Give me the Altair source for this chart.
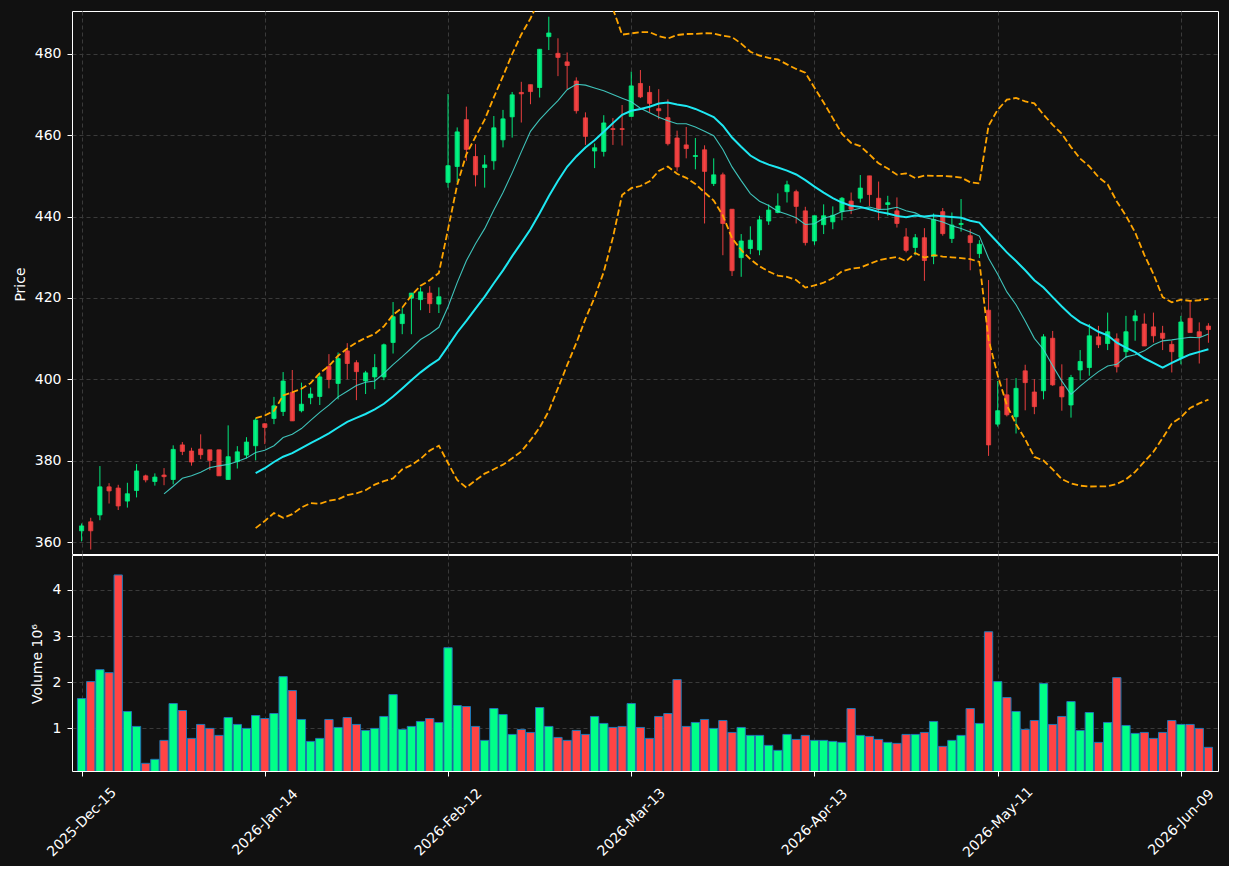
import json
import altair as alt
import pandas as pd

open_ = [362.8, 365.0, 366.7, 373.6, 373.3, 370.1, 372.7, 376.3, 374.9, 376.5,
         375.4, 383.9, 382.4, 382.9, 382.7, 382.7, 375.4, 379.8, 381.4, 383.7,
         389.1, 390.4, 392.1, 396.8, 392.3, 395.5, 395.8, 403.2, 399.0, 407.0,
         404.1, 399.6, 400.6, 400.6, 409.05, 413.7, 419.95, 419.6, 421.2, 418.5,
         448.4, 452.3, 463.8, 454.75, 452.05, 453.7, 458.85, 464.5, 470.5, 472.4,
         471.7, 484.2, 480.1, 478.0, 473.3, 464.25, 456.1, 456.0, 461.6, 461.6,
         464.6, 472.7, 470.5, 466.5, 464.3, 459.3, 457.6, 454.75, 456.4, 448.1,
         450.25, 441.8, 429.9, 432.15, 431.8, 438.9, 441.0, 446.1, 446.1, 441.4,
         434.0, 438.0, 438.7, 441.2, 443.8, 444.5, 450.0, 444.5, 442.96, 441.4,
         435.0, 432.4, 434.8, 430.2, 441.2, 434.6, 438.05, 435.3, 430.9, 417.0,
         389.0, 396.2, 390.8, 402.1, 396.9, 397.2, 410.1, 398.2, 393.7, 402.3,
         402.9, 410.45, 408.8, 409.96, 406.8, 414.4, 413.6, 412.9, 411.35, 408.6,
         405.4, 415.0, 411.7, 413.1]
high = [364.6, 366.0, 378.7, 374.5, 374.1, 374.6, 379.2, 376.6, 376.9, 378.2,
        383.8, 384.6, 383.2, 386.5, 382.7, 382.7, 388.7, 383.6, 385.8, 390.5,
        389.2, 395.7, 401.8, 402.3, 399.2, 398.0, 401.3, 406.2, 406.6, 408.9,
        404.7, 402.1, 406.2, 408.8, 419.0, 417.5, 421.2, 422.6, 422.9, 422.6,
        470.1, 461.9, 467.0, 457.8, 455.1, 464.7, 466.2, 470.6, 473.1, 472.4,
        481.1, 489.1, 483.8, 480.3, 474.2, 465.6, 457.95, 464.9, 464.2, 467.4,
        475.6, 476.0, 472.1, 471.3, 468.8, 461.1, 462.0, 459.3, 457.5, 454.3,
        450.8, 441.8, 435.7, 437.6, 440.2, 443.0, 445.7, 448.8, 446.6, 442.4,
        440.2, 443.0, 442.5, 444.8, 445.9, 450.2, 450.0, 448.6, 445.1, 444.7,
        437.15, 435.7, 437.15, 440.75, 442.1, 441.0, 444.3, 436.9, 434.2, 424.4,
        399.6, 400.3, 400.3, 403.6, 400.05, 411.1, 411.9, 403.7, 401.1, 407.2,
        413.6, 413.15, 416.4, 411.3, 415.6, 417.0, 416.2, 416.4, 413.15, 409.5,
        415.6, 419.3, 414.0, 413.8]
low = [360.2, 358.2, 365.4, 369.5, 367.9, 368.5, 371.0, 374.7, 373.9, 374.0,
       374.2, 381.4, 378.8, 380.4, 377.7, 376.3, 375.4, 378.1, 380.6, 380.1,
       384.1, 389.0, 391.0, 389.8, 391.9, 393.9, 393.7, 397.8, 395.1, 400.0,
       394.9, 396.4, 397.6, 399.8, 406.35, 411.1, 411.1, 417.0, 416.3, 416.3,
       447.1, 448.4, 453.7, 447.4, 447.1, 451.5, 457.0, 459.4, 463.1, 467.6,
       469.25, 480.9, 474.5, 471.3, 465.3, 457.6, 451.9, 454.75, 457.6, 457.45,
       464.6, 469.1, 465.6, 463.9, 457.45, 451.1, 454.3, 451.6, 438.3, 447.5,
       430.5, 425.4, 425.2, 430.75, 430.5, 437.96, 440.8, 443.45, 438.3, 432.9,
       433.05, 435.7, 436.9, 439.1, 440.6, 443.45, 442.6, 439.1, 440.2, 437.3,
       431.2, 430.5, 424.2, 428.3, 435.3, 433.5, 436.3, 426.8, 429.8, 381.2,
       388.4, 390.9, 386.7, 392.4, 391.45, 395.1, 398.4, 392.3, 390.6, 399.8,
       400.9, 407.7, 407.2, 401.7, 405.2, 409.5, 408.2, 409.05, 407.2, 401.7,
       403.7, 411.5, 403.9, 409.0]
close = [364.0, 362.8, 373.6, 372.6, 368.9, 371.9, 377.5, 375.3, 376.0, 376.1,
         382.8, 382.3, 379.7, 381.5, 380.1, 376.3, 381.0, 382.2, 384.6, 390.0,
         388.2, 393.5, 399.6, 389.8, 393.9, 396.4, 400.6, 400.0, 405.1, 403.9,
         401.9, 401.6, 402.9, 408.5, 415.4, 416.0, 421.2, 421.5, 418.6, 420.3,
         452.5, 460.8, 456.5, 450.25, 452.7, 461.8, 464.0, 469.9, 470.15, 470.7,
         481.1, 485.1, 479.1, 477.1, 466.0, 459.7, 456.9, 463.0, 461.4, 461.4,
         472.1, 469.4, 467.8, 466.0, 457.9, 452.2, 456.7, 455.0, 451.1, 450.25,
         438.3, 426.7, 434.0, 434.2, 439.2, 441.6, 442.6, 447.8, 442.5, 433.6,
         440.2, 440.2, 440.3, 444.5, 441.8, 447.0, 445.4, 441.8, 443.4, 438.3,
         431.7, 434.8, 429.2, 439.3, 435.8, 437.9, 438.3, 433.6, 433.2, 383.9,
         392.3, 391.3, 397.8, 399.2, 393.3, 410.45, 398.65, 395.7, 400.45, 404.4,
         410.7, 408.5, 411.7, 403.1, 411.7, 415.6, 408.2, 410.7, 410.1, 406.8,
         414.1, 411.5, 410.45, 412.25]
volume = [1.647, 2.014, 2.273, 2.208, 4.323, 1.367, 1.043, 0.244, 0.331, 0.741,
          1.539, 1.388, 0.784, 1.086, 1.0, 0.849, 1.237, 1.086, 1.0, 1.28,
          1.215, 1.323, 2.122, 1.82, 1.194, 0.719, 0.784, 1.194, 1.021, 1.237,
          1.086, 0.956, 1.0, 1.259, 1.733, 0.978, 1.043, 1.151, 1.215, 1.129,
          2.748, 1.496, 1.474, 1.043, 0.741, 1.431, 1.302, 0.87, 0.978, 0.913,
          1.453, 1.043, 0.805, 0.741, 0.956, 0.87, 1.259, 1.108, 1.021, 1.043,
          1.539, 1.021, 0.784, 1.259, 1.323, 2.057, 1.043, 1.129, 1.194, 1.0,
          1.172, 0.913, 1.021, 0.849, 0.849, 0.633, 0.525, 0.87, 0.762, 0.849,
          0.741, 0.741, 0.719, 0.698, 1.431, 0.849, 0.827, 0.762, 0.698, 0.676,
          0.87, 0.87, 0.913, 1.151, 0.611, 0.741, 0.849, 1.431, 1.108, 3.093,
          2.014, 1.669, 1.367, 0.978, 1.172, 1.971, 1.086, 1.259, 1.582, 0.956,
          1.345, 0.698, 1.129, 2.1, 1.064, 0.892, 0.913, 0.784, 0.913, 1.172,
          1.086, 1.086, 1.0, 0.59]
tick_pos = [0, 20, 40, 60, 80, 100, 120]
tick_labels = ["2025-Dec-15", "2026-Jan-14", "2026-Feb-12", "2026-Mar-13",
               "2026-Apr-13", "2026-May-11", "2026-Jun-09"]
price_ticks = [360, 380, 400, 420, 440, 460, 480]
volume_ticks = [1, 2, 3, 4]

df = pd.DataFrame({
    "i": list(range(len(close))),
    "open": open_, "high": high, "low": low, "close": close, "volume": volume,
})

UP = "#00ff88"
DOWN = "#ff4444"
up_cond = "datum.close >= datum.open"
color_c = alt.condition(up_cond, alt.value(UP), alt.value(DOWN))

x_scale = alt.Scale(domain=[-0.5, 123.5], nice=False, zero=False)
y_price = alt.Scale(domain=[357.1, 490.5], nice=False, zero=False)
y_vol = alt.Scale(domain=[0.078, 4.755], nice=False, zero=False)

x_axis_price = alt.Axis(values=tick_pos, labels=False, ticks=False,
                        domain=False, title=None, grid=True)
y_axis_price = alt.Axis(values=price_ticks, title="Price", titleX=-47.7,
                        titleY=273, titleAngle=270,
                        titleBaseline="alphabetic", grid=True)


def xp():
    return alt.X("i:Q", scale=x_scale, axis=x_axis_price)


def yp(field):
    return alt.Y(field, type="quantitative", scale=y_price, axis=y_axis_price)


base = alt.Chart(df)

wicks = base.mark_rule(strokeWidth=1, opacity=0.9).encode(
    x=xp(), y=yp("low"), y2="high:Q", color=color_c,
)
bodies = base.mark_bar(size=4.2, strokeWidth=0.8, opacity=0.9).encode(
    x=xp(), y=yp("open"), y2="close:Q", color=color_c, stroke=color_c,
)

sort_i = [alt.SortField("i")]
ma10 = base.transform_window(
    ma10="mean(close)", n10="count()", frame=[-9, 0], sort=sort_i
).transform_filter("datum.n10 >= 10").mark_line(
    color="#44d6cc", strokeWidth=1.1, opacity=0.9
).encode(x=xp(), y=yp("ma10"))

w20 = base.transform_window(
    ma20="mean(close)", sd20="stdev(close)", n20="count()", frame=[-19, 0],
    sort=sort_i
).transform_filter("datum.n20 >= 20").transform_calculate(
    bb_up="datum.ma20 + 2 * datum.sd20",
    bb_lo="datum.ma20 - 2 * datum.sd20",
)
ma20 = w20.mark_line(color="#1ee8f2", strokeWidth=2).encode(
    x=xp(), y=yp("ma20"))
bb_up = w20.mark_line(color="#ffa500", strokeWidth=1.8, strokeDash=[6.5, 2.9],
                      clip=True).encode(x=xp(), y=yp("bb_up"))
bb_lo = w20.mark_line(color="#ffa500", strokeWidth=1.8, strokeDash=[6.5, 2.9],
                      clip=True).encode(x=xp(), y=yp("bb_lo"))

price = alt.layer(wicks, bodies, ma10, ma20, bb_up, bb_lo).properties(
    width=1146, height=543)

label_expr = json.dumps(tick_labels) + "[round(datum.value / 20)]"
vol = alt.Chart(df).mark_bar(size=8.3, stroke="#1f77b4", strokeWidth=1,
                             clip=True).encode(
    x=alt.X("i:Q", scale=x_scale,
            axis=alt.Axis(values=tick_pos, labelExpr=label_expr, labelAngle=315,
                          labelAlign="center", labelBaseline="middle",
                          labelPadding=46, labelFlush=False, labelOverlap=False,
                          title=None, grid=True)),
    y=alt.Y("volume:Q", scale=y_vol,
            axis=alt.Axis(values=volume_ticks, format="d", title="Volume  10⁶",
                          titleX=-30.3, titleY=108.5, titleAngle=270,
                          titleBaseline="alphabetic", grid=True)),
    y2=alt.datum(0),
    color=color_c,
).properties(width=1146, height=216)

chart = alt.vconcat(price, vol, spacing=1, bounds="flush").properties(
    padding={"left": 12, "top": 10, "right": 10, "bottom": 5},
    background="#111111",
).configure_view(
    stroke="white", strokeWidth=1, fill="#111111"
).configure_axis(
    labelColor="white", titleColor="white", tickColor="white",
    labelFont="DejaVu Sans", titleFont="DejaVu Sans",
    labelFontSize=14, titleFontSize=14, titleFontWeight="normal",
    gridColor="#3a3a3a", gridDash=[4, 3], gridWidth=1,
    domain=False, tickSize=5, tickWidth=1, labelPadding=6,
)

chart.save("out.html", embed_options={"renderer": "svg", "actions": False})
